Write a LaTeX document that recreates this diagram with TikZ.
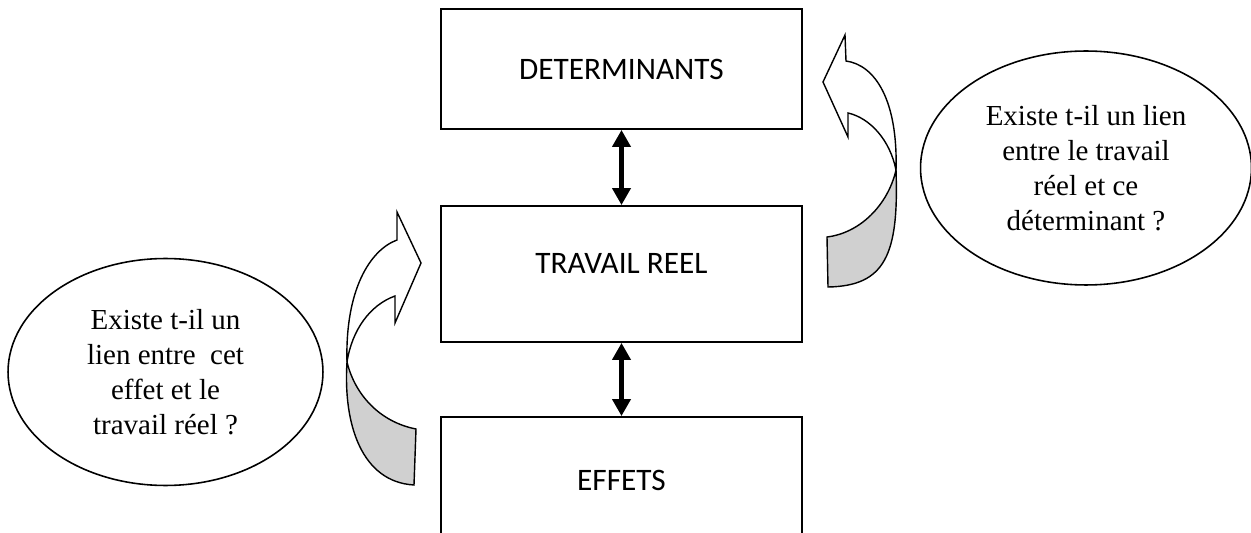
\documentclass[tikz,border=0pt]{standalone}
\usepackage{fontspec}
\setmainfont{Liberation Serif}
\newfontfamily\calibri{Carlito}
\usetikzlibrary{arrows.meta,shapes.geometric}
\definecolor{gris}{RGB}{208,208,208}
\tikzset{boite/.style={draw, line width=1.1pt, minimum width=7.22cm, font=\calibri\fontsize{17.8}{21}\selectfont}}
\tikzset{bulle/.style={ellipse, draw, line width=0.9pt, align=center, inner sep=0pt, font=\fontsize{16.5}{19.9}\selectfont}}
\tikzset{fleche/.style={line width=2.3pt, {Triangle[length=0.34cm,width=0.36cm]}-{Triangle[length=0.34cm,width=0.36cm]}}}
\tikzset{courbe/.style={draw, line width=0.8pt, line join=miter}}

\begin{document}
\begin{tikzpicture}[x=0.02cm, y=-0.02cm]
  \useasboundingbox (0,0) rectangle (1251,533);

  \node[boite, minimum height=2.40cm] (det)  at (621.5, 69) {DETERMINANTS};
  \node[boite, minimum height=2.72cm, text depth=0.44cm] (trav) at (621.5,274) {TRAVAIL REEL};
  \node[boite, minimum height=2.52cm] (eff)  at (621.5,480) {EFFETS};

  \draw[fleche] (det) -- (trav);
  \draw[fleche] (trav) -- (eff);

  \node[bulle, minimum width=6.30cm, minimum height=4.54cm] (q1) at (165.5,372)
    {Existe t-il un\\lien entre~ cet\\effet et le\\travail réel ?};
  \node[bulle, minimum width=6.62cm, minimum height=4.68cm] (q2) at (1086,168)
    {Existe t-il un lien\\entre le travail\\réel et ce\\déterminant ?};

  % fleche courbe vers TRAVAIL REEL
  \draw[courbe, fill=gris]
    (347,362) .. controls (343,425) and (362,482) ..
    (414,485) -- (416,429) .. controls (380,422) and (355,395) ..
    (347,362) -- cycle;
  \draw[courbe, fill=white]
    (347,362) .. controls (345,290) and (370,250) ..
    (397,240) -- (397,212) -- (421,263) -- (395,323) --
    (395,296) .. controls (370,305) and (352,330) ..
    (347,362) -- cycle;

  % fleche courbe vers DETERMINANTS
  \draw[courbe, fill=gris]
    (896,170) .. controls (899,255) and (885,286) ..
    (828,287) -- (827,237) .. controls (860,233) and (888,205) ..
    (896,170) -- cycle;
  \draw[courbe, fill=white]
    (896,170) .. controls (898,100) and (875,65) ..
    (846,61) -- (845,35) -- (823,82) -- (848,137) --
    (848,113) .. controls (870,118) and (890,140) ..
    (896,170) -- cycle;
\end{tikzpicture}
\end{document}
